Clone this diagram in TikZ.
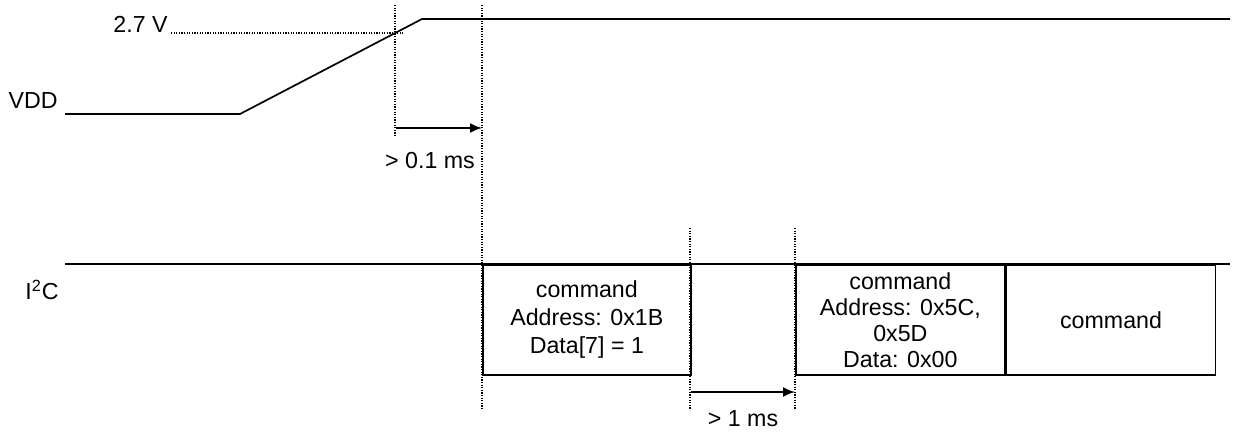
\documentclass[tikz,border=0pt]{standalone}
\usepackage{fontspec}
\setmainfont{Liberation Sans}
\usetikzlibrary{arrows.meta}
\begin{document}
\begin{tikzpicture}[x=0.5pt,y=-0.5pt,
  sig/.style={line width=0.85pt},
  guide/.style={line width=0.65pt, dash pattern=on 0.6pt off 0.7pt},
  tarr/.style={line width=0.9pt,-{Latex[length=6pt,width=5pt]}},
  lbl/.style={font=\fontsize{11.6}{14}\selectfont, inner sep=0pt},
  cmdbox/.style={draw, line width=0.85pt, minimum height=55pt, inner sep=0pt,
    align=center, anchor=north west, font=\fontsize{11.6}{14}\selectfont}]
\useasboundingbox (0,0) rectangle (1234,432);

% VDD waveform
\coordinate (v0) at (65,114);
\coordinate (v1) at (240,114);
\coordinate (v2) at (422,19);
\coordinate (v3) at (1230,19);
\draw[sig] (v0) -- (v1) -- (v2) -- (v3);
\node[lbl, anchor=east] (vdd) at (58,101) {VDD};

% 2.7 V threshold
\node[lbl, anchor=base east] (v27) at (168,33) {2.7 V};
\coordinate (th) at (403,33);
\draw[guide] ([xshift=1.5pt]v27.base east) -- (th);

% timing guides top
\coordinate (g1t) at (395,5);
\coordinate (g1b) at (395,137);
\coordinate (g2t) at (482,5);
\coordinate (g2b) at (482,410);
\draw[guide] (g1t) -- (g1b);
\draw[guide] (g2t) -- (g2b);
\coordinate (a1s) at (396,128);
\coordinate (a1e) at (482,128);
\draw[tarr] (a1s) -- (a1e);
\node[lbl] (t01) at (430,161) {> 0.1 ms};

% I2C
\coordinate (i0) at (65,264);
\coordinate (i1) at (1230,264);
\draw[sig] (i0) -- (i1);
\node[lbl] (i2c) at (42,290) {I\textsuperscript{2}C};

\node[cmdbox, minimum width=104pt] (c1) at (482,264) {command\\Address: 0x1B\\Data[7] = 1};
\node[cmdbox, minimum width=104.5pt, font=\fontsize{11.6}{13}\selectfont] (c2) at (795,264) {command\\Address: 0x5C,\\0x5D\\Data: 0x00};
\node[cmdbox, minimum width=104.5pt] (c3) at (c2.north east) {command};

% timing guides bottom
\coordinate (g3t) at (690,228);
\coordinate (g3b) at (690,410);
\coordinate (g4t) at (795,228);
\coordinate (g4b) at (795,410);
\draw[guide] (g3t) -- (g3b);
\draw[guide] (g4t) -- (g4b);
\coordinate (a2s) at (691,392);
\coordinate (a2e) at (795,392);
\draw[tarr] (a2s) -- (a2e);
\node[lbl] (t1) at (743,419) {> 1 ms};
\end{tikzpicture}
\end{document}
